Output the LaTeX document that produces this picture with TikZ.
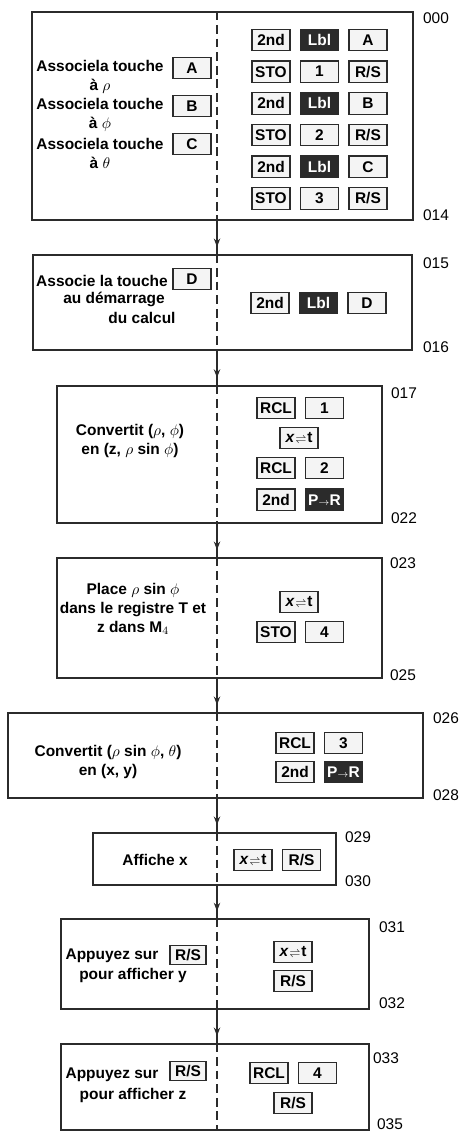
\documentclass[tikz,border=0pt]{standalone}
\usepackage{fontspec}
\setmainfont{Liberation Sans}
\usepackage{xcolor,tikz}
\usetikzlibrary{arrows.meta,positioning,fit,decorations.markings}
\definecolor{ink}{HTML}{2B2B2B}
\definecolor{keyface}{HTML}{F4F4F4}
\newcommand{\xtkey}{\textit{x}\kern0.5pt{\scriptsize$\rightleftharpoons$}\kern0.5pt t}
\newcommand{\prkey}{P{\scriptsize$\rightarrow$}R}

\begin{document}
\begin{tikzpicture}[
    x=0.025cm,
    y=-0.025cm,
    node distance=2.2mm and 2.3mm,
    font=\fontsize{11}{13.5}\selectfont\bfseries,
    frame/.style={
        draw=ink,
        line width=0.9pt,
        inner sep=0pt
    },
    key/.style={
        draw=ink,
        line width=0.9pt,
        fill=keyface,
        minimum width=9.5mm,
        minimum height=5.4mm,
        inner sep=0.4mm
    },
    darkkey/.style={
        key,
        fill=ink,
        text=white
    },
    txt/.style={
        align=center,
        inner sep=0pt
    },
    lnum/.style={
        font=\fontsize{11}{13}\selectfont\mdseries,
        inner sep=0pt
    },
    spine/.style={
        draw=ink,
        line width=0.9pt,
        dash pattern=on 2.2mm off 1.2mm
    },
    link/.style={
        draw=ink,
        line width=0.9pt,
        postaction={decorate},
        decoration={markings,
            mark=at position 0.78 with {\arrow{Stealth[length=2.1mm,width=1.6mm]}}}
    }
]

\useasboundingbox (0,0) rectangle (460,1132);

\coordinate (sp) at (217,0);

\node[frame,fit={(32,12) (413,220)}] (b1) {};
\node[frame,fit={(33,255) (412,350)}] (b2) {};
\node[frame,fit={(57,386) (382,523)}] (b3) {};
\node[frame,fit={(57,558) (382,678)}] (b4) {};
\node[frame,fit={(8,713) (423,798)}] (b5) {};
\node[frame,fit={(93,833) (336,885)}] (b6) {};
\node[frame,fit={(61,919) (369,1009)}] (b7) {};
\node[frame,fit={(61,1044) (369,1130)}] (b8) {};

\node[lnum] (n000) at (436,18) {000};
\node[lnum] (n014) at (436,215) {014};
\node[lnum] (n015) at (436,263) {015};
\node[lnum] (n016) at (436,347) {016};
\node[lnum] (n017) at (404,393) {017};
\node[lnum] (n022) at (404,518) {022};
\node[lnum] (n023) at (403,563) {023};
\node[lnum] (n025) at (403,675) {025};
\node[lnum] (n026) at (446,718) {026};
\node[lnum] (n028) at (446,795) {028};
\node[lnum] (n029) at (358,837) {029};
\node[lnum] (n030) at (358,881) {030};
\node[lnum] (n031) at (392,927) {031};
\node[lnum] (n032) at (392,1003) {032};
\node[lnum] (n033) at (386,1058) {033};
\node[lnum] (n035) at (390,1124) {035};

% bloc 000-014
\node[txt] (ta) at (100,77) {Associela touche\\à $\rho$};
\node[txt] (tb) at (100,115) {Associela touche\\à $\phi$};
\node[txt] (tc) at (100,153) {Associela touche\\à $\theta$};
\node[key] (ka) at (192,68) {A};
\node[key] (kb) at (192,106) {B};
\node[key] (kc) at (192,144) {C};

\node[key] (s1) at (271,40) {2nd};
\node[key,below=of s1] (s2) {STO};
\node[key,below=of s2] (s3) {2nd};
\node[key,below=of s3] (s4) {STO};
\node[key,below=of s4] (s5) {2nd};
\node[key,below=of s5] (s6) {STO};
\node[darkkey,right=of s1] (l1) {Lbl};
\node[key,right=of l1] (a1) {A};
\node[key,right=of s2] (d1) {1};
\node[key,right=of d1] (r1) {R/S};
\node[darkkey,right=of s3] (l2) {Lbl};
\node[key,right=of l2] (a2) {B};
\node[key,right=of s4] (d2) {2};
\node[key,right=of d2] (r2) {R/S};
\node[darkkey,right=of s5] (l3) {Lbl};
\node[key,right=of l3] (a3) {C};
\node[key,right=of s6] (d3) {3};
\node[key,right=of d3] (r3) {R/S};

% bloc 015-016
\node[txt] (td1) at (102,281) {Associe la touche};
\node[txt] (td2) at (114,299) {au démarrage};
\node[txt] (td3) at (142,318) {du calcul};
\node[key] (kd) at (192,279) {D};

\node[key] (s7) at (270,303) {2nd};
\node[darkkey,right=of s7] (l4) {Lbl};
\node[key,right=of l4] (a4) {D};

% bloc 017-022
\node[txt] (tconv) at (130,441) {Convertit ($\rho$, $\phi$)\\en (z, $\rho$ sin $\phi$)};

\node[key] (c1) at (276,408) {RCL};
\node[key,right=of c1] (d4) {1};
\node[key] (x1) at (299,438) {\xtkey};
\node[key] (c2) at (276,468) {RCL};
\node[key,right=of c2] (d5) {2};
\node[key,below=of c2] (s8) {2nd};
\node[darkkey,right=of s8] (p1) {\prkey};

% bloc 023-025
\node[txt] (tplace) at (133,609) {Place $\rho$ sin $\phi$\\dans le registre T et\\z dans M$_4$};

\node[key] (x2) at (299,602) {\xtkey};
\node[key] (s9) at (276,632) {STO};
\node[key,right=of s9] (d6) {4};

% bloc 026-028
\node[txt] (tconv2) at (108,762) {Convertit ($\rho$ sin $\phi$, $\theta$)\\en (x, y)};

\node[key] (c3) at (295,743) {RCL};
\node[key,right=of c3] (d7) {3};
\node[key] (s10) at (295,772) {2nd};
\node[darkkey,right=of s10] (p2) {\prkey};

% bloc 029-030
\node[txt] (taff) at (155,860) {Affiche x};

\node[key] (x3) at (253,860) {\xtkey};
\node[key,right=of x3] (r4) {R/S};

% bloc 031-032
\node[txt] (tap1) at (112,956) {Appuyez sur};
\node[txt] (tay) at (133,975) {pour afficher y};
\node[key,minimum width=9mm,minimum height=4.6mm] (kr1) at (188,955) {R/S};

\node[key] (x4) at (293,952) {\xtkey};
\node[key] (r5) at (293,981) {R/S};

% bloc 033-035
\node[txt] (tap2) at (112,1075) {Appuyez sur};
\node[txt] (taz) at (133,1095) {pour afficher z};
\node[key,minimum width=9mm,minimum height=4.6mm] (kr2) at (188,1071) {R/S};

\node[key] (c4) at (269,1073) {RCL};
\node[key,right=of c4] (d8) {4};
\node[key] (r6) at (293,1103) {R/S};

\draw[spine] (b1.north -| sp) -- (b1.south -| sp);
\draw[spine] (b2.north -| sp) -- (b2.south -| sp);
\draw[spine] (b3.north -| sp) -- (b3.south -| sp);
\draw[spine] (b4.north -| sp) -- (b4.south -| sp);
\draw[spine] (b5.north -| sp) -- (b5.south -| sp);
\draw[spine] (b6.north -| sp) -- (b6.south -| sp);
\draw[spine] (b7.north -| sp) -- (b7.south -| sp);
\draw[spine] (b8.north -| sp) -- (b8.south -| sp);

\draw[link] (b1.south -| sp) -- (b2.north -| sp);
\draw[link] (b2.south -| sp) -- (b3.north -| sp);
\draw[link] (b3.south -| sp) -- (b4.north -| sp);
\draw[link] (b4.south -| sp) -- (b5.north -| sp);
\draw[link] (b5.south -| sp) -- (b6.north -| sp);
\draw[link] (b6.south -| sp) -- (b7.north -| sp);
\draw[link] (b7.south -| sp) -- (b8.north -| sp);

\end{tikzpicture}
\end{document}
